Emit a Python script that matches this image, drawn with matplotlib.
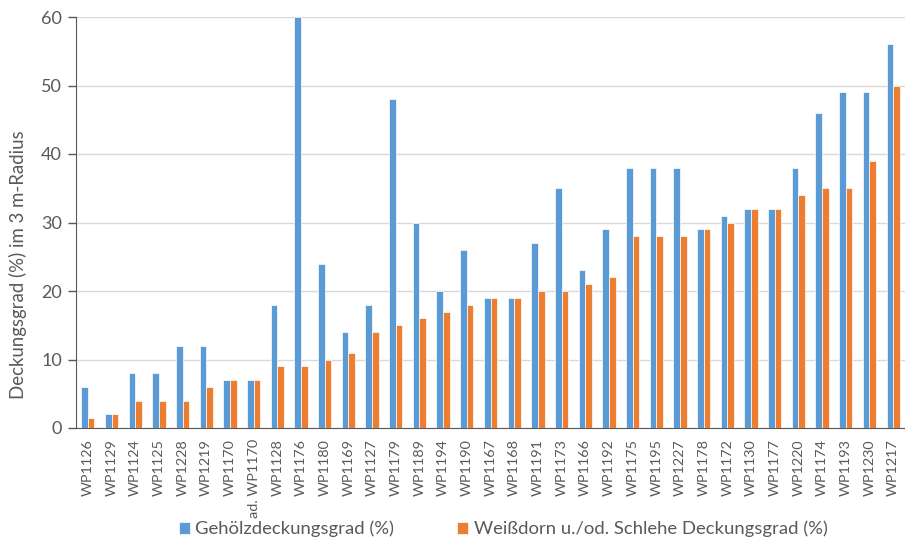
import matplotlib
matplotlib.use('Agg')
import matplotlib.pyplot as plt
import numpy as np

plots = ['WP1126', 'WP1129', 'WP1124', 'WP1125', 'WP1228', 'WP1219', 'WP1170',
         'ad. WP1170', 'WP1128', 'WP1176', 'WP1180', 'WP1169', 'WP1127', 'WP1179',
         'WP1189', 'WP1194', 'WP1190', 'WP1167', 'WP1168', 'WP1191', 'WP1173',
         'WP1166', 'WP1192', 'WP1175', 'WP1195', 'WP1227', 'WP1178', 'WP1172',
         'WP1130', 'WP1177', 'WP1220', 'WP1174', 'WP1193', 'WP1230', 'WP1217']
gehoelz = [6, 2, 8, 8, 12, 12, 7, 7, 18, 60, 24, 14, 18, 48, 30, 20, 26, 19, 19,
           27, 35, 23, 29, 38, 38, 38, 29, 31, 32, 32, 38, 46, 49, 49, 56]
weissdorn = [1.5, 2, 4, 4, 4, 6, 7, 7, 9, 9, 10, 11, 14, 15, 16, 17, 18, 19, 19,
             20, 20, 21, 22, 28, 28, 28, 29, 30, 32, 32, 34, 35, 35, 39, 50]

plt.rcParams['font.family'] = ['Lato', 'DejaVu Sans']
grey = '#595959'

fig = plt.figure(figsize=(9.05, 5.44), dpi=100)
ax = fig.add_axes([76 / 905, 116 / 544, 829 / 905, 411 / 544])

x = np.arange(len(plots))
w = 0.28
ax.bar(x - w / 2, gehoelz, w, color='#5B9BD5', edgecolor='white', linewidth=0.5,
       label='Gehölzdeckungsgrad (%)', zorder=3)
ax.bar(x + w / 2, weissdorn, w, color='#ED7D31', edgecolor='white', linewidth=0.5,
       label='Weißdorn u./od. Schlehe Deckungsgrad (%)', zorder=3)

ax.set_xlim(-0.5, len(plots) - 0.5)
ax.set_ylim(0, 60)
ax.set_yticks(range(0, 61, 10))
ax.yaxis.grid(True, color='#D9D9D9', linewidth=1)
ax.set_axisbelow(True)

ax.set_xticks(x)
ax.set_xticklabels(plots, rotation=90, ha='center', va='top', fontsize=10.4, color=grey)
ax.tick_params(axis='x', length=0, pad=8)
ax.tick_params(axis='y', length=6, width=1, color='#595959', labelsize=13,
               labelcolor=grey, pad=4)

for side in ['top', 'right']:
    ax.spines[side].set_visible(False)
ax.spines['left'].set_color('#595959')
ax.spines['bottom'].set_color('#595959')

# Excel puts the axis title a bit lower than the plot centre
fig.text(18 / 905, 1 - 265 / 544, 'Deckungsgrad (%) im 3 m-Radius', rotation=90,
         ha='center', va='center', fontsize=13.4, color=grey)

leg = fig.legend(loc='center', bbox_to_anchor=(503 / 905, 15 / 544),
                 ncol=2, frameon=False, fontsize=13.3, handlelength=0.6,
                 handleheight=0.6, handletextpad=0.3, columnspacing=3.4)
for t in leg.get_texts():
    t.set_color(grey)

fig.savefig('out.png', dpi=100)
